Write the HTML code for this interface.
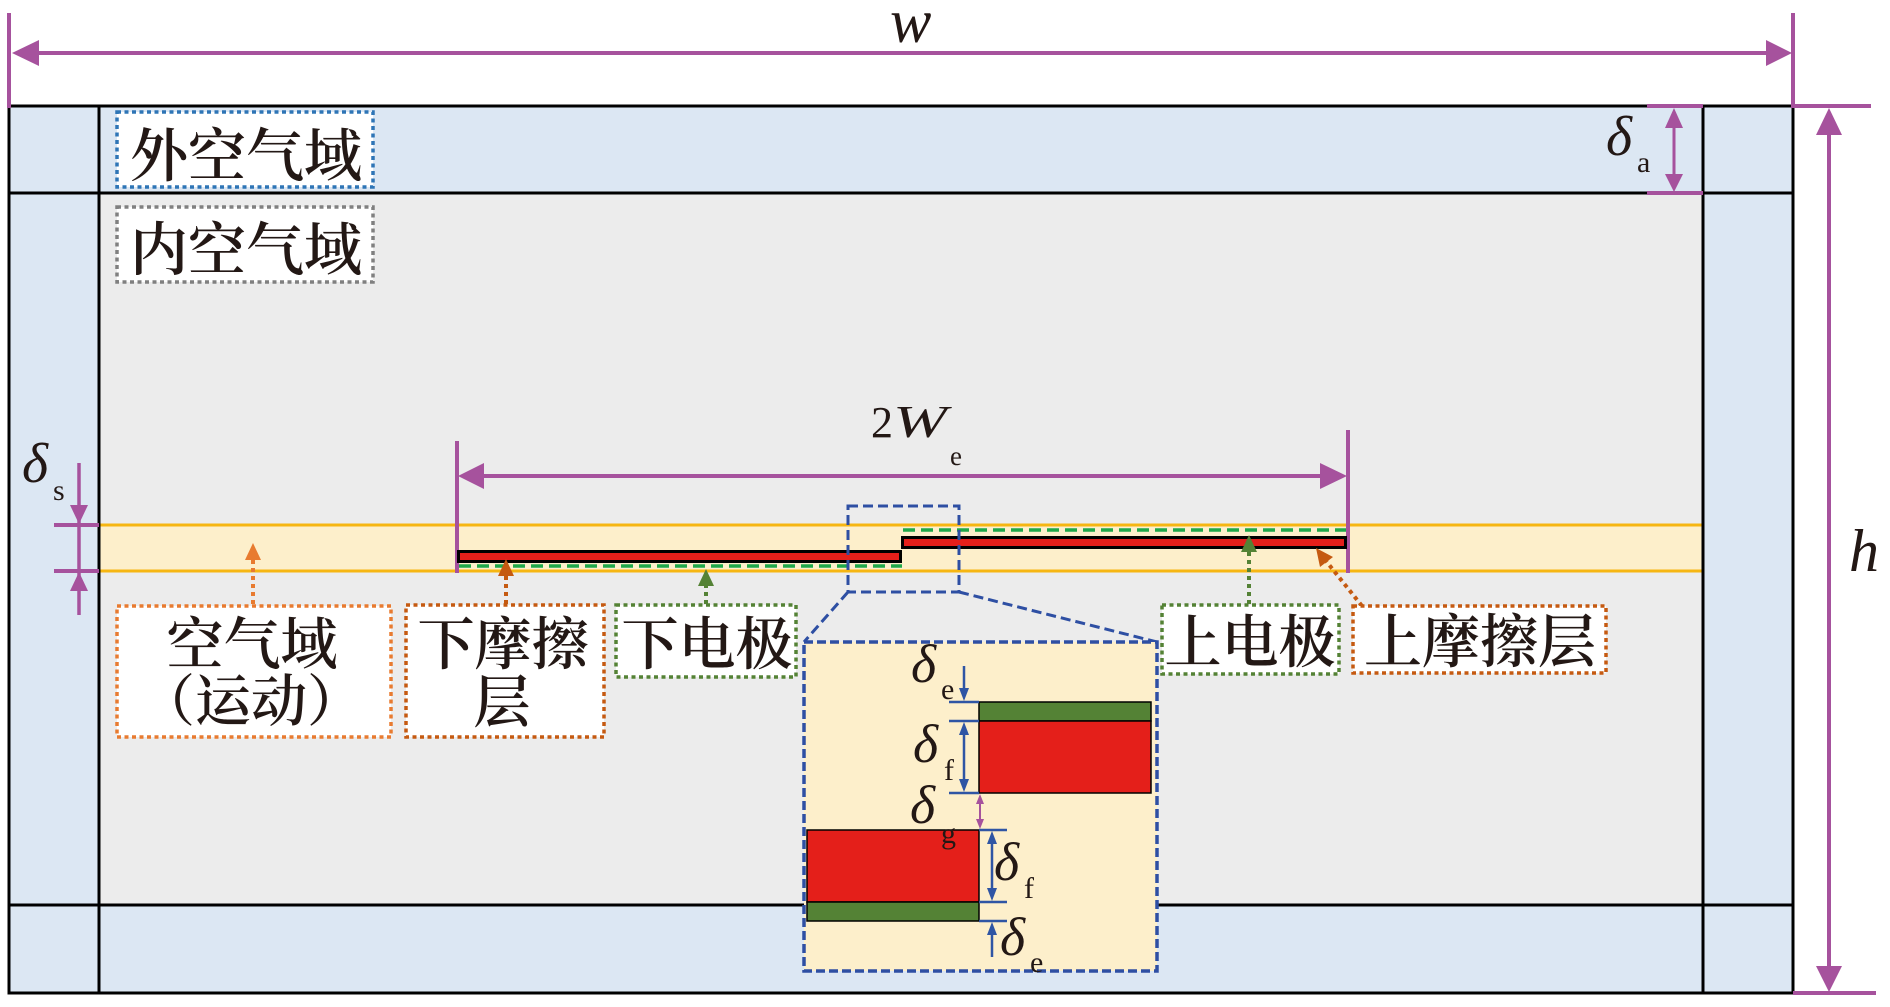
<!DOCTYPE html>
<html><head><meta charset="utf-8"><style>
html,body{margin:0;padding:0;background:#fff;}
svg{display:block;}
.cj{font-family:"Liberation Serif","Noto Serif CJK SC","Noto Sans CJK SC",serif;font-weight:600;fill:#231815;}
.it{font-family:"Liberation Serif",serif;font-style:italic;fill:#231815;}
.rm{font-family:"Liberation Serif",serif;fill:#231815;}
</style></head><body>
<svg width="1890" height="1007" viewBox="0 0 1890 1007" xmlns="http://www.w3.org/2000/svg">
<rect width="1890" height="1007" fill="#fff"/>
<!-- domains -->
<rect x="9" y="106" width="1784" height="887" fill="#dce7f3"/>
<rect x="99" y="193" width="1604" height="712" fill="#ececec"/>
<rect x="99" y="525" width="1604" height="46" fill="#fdefcb"/>
<line x1="99" y1="525" x2="1703" y2="525" stroke="#f6b612" stroke-width="3"/>
<line x1="99" y1="571" x2="1703" y2="571" stroke="#f6b612" stroke-width="3"/>
<!-- grid lines -->
<g stroke="#000" stroke-width="3" fill="none">
<rect x="9" y="106" width="1784" height="887"/>
<line x1="99" y1="106" x2="99" y2="993"/>
<line x1="1703" y1="106" x2="1703" y2="993"/>
<line x1="9" y1="193" x2="1793" y2="193"/>
<line x1="9" y1="905" x2="1793" y2="905"/>
</g>

<!-- w dimension -->
<g stroke="#a6529d" stroke-width="4" fill="none">
<line x1="9" y1="13" x2="9" y2="108"/>
<line x1="1793" y1="13" x2="1793" y2="108"/>
<line x1="20" y1="53" x2="1784" y2="53"/>
<!-- h -->
<line x1="1793" y1="106" x2="1871" y2="106"/>
<line x1="1793" y1="993" x2="1876" y2="993"/>
<line x1="1829" y1="120" x2="1829" y2="980"/>
<!-- delta a -->
<line x1="1647" y1="106" x2="1703" y2="106"/>
<line x1="1647" y1="193" x2="1703" y2="193"/>
<line x1="1674" y1="115" x2="1674" y2="185" stroke-width="3"/>
<!-- delta s -->
<line x1="54" y1="525" x2="99" y2="525"/>
<line x1="54" y1="571" x2="99" y2="571"/>
<line x1="79" y1="463" x2="79" y2="615" stroke-width="3.5"/>
<!-- 2We -->
<line x1="457" y1="441" x2="457" y2="573"/>
<line x1="1348" y1="430" x2="1348" y2="573"/>
<line x1="470" y1="476" x2="1335" y2="476"/>
</g>
<g fill="#a6529d">
<polygon points="12,53 39,40 39,66"/>
<polygon points="1792,53 1766,40 1766,66"/>
<polygon points="1829,108 1816,135 1842,135"/>
<polygon points="1829,992 1816,966 1842,966"/>
<polygon points="1674,108 1665,128 1683,128"/>
<polygon points="1674,192 1665,174 1683,174"/>
<polygon points="79,524 70,505 88,505"/>
<polygon points="79,572 70,591 88,591"/>
<polygon points="458,476 484,463 484,489"/>
<polygon points="1347,476 1320,463 1320,489"/>
</g>
<text class="it" x="890" y="42" font-size="62">w</text>
<text class="it" x="1849" y="571" font-size="60">h</text>
<text class="it" x="1606" y="155" font-size="56">δ</text>
<text class="rm" x="1637" y="172" font-size="30">a</text>
<text class="it" x="22" y="482" font-size="56">δ</text>
<text class="rm" x="53" y="500" font-size="30">s</text>
<text class="rm" x="871" y="437" font-size="44">2</text>
<text class="it" x="893" y="437" font-size="45" textLength="54" lengthAdjust="spacingAndGlyphs">W</text>
<text class="rm" x="950" y="465" font-size="27">e</text>

<!-- bars -->
<rect x="458.5" y="551.5" width="442" height="10" fill="#e41f1a" stroke="#000" stroke-width="3"/>
<rect x="902.5" y="537.5" width="443" height="10" fill="#e41f1a" stroke="#000" stroke-width="3"/>
<line x1="459" y1="566" x2="902" y2="566" stroke="#1fa84a" stroke-width="3.5" stroke-dasharray="12 6"/>
<line x1="903" y1="530" x2="1346" y2="530" stroke="#1fa84a" stroke-width="3.5" stroke-dasharray="12 6"/>

<!-- zoom box -->
<g stroke="#2e4fa3" stroke-width="3" fill="none" stroke-dasharray="10 5">
<rect x="848" y="506" width="111" height="86"/>
<line x1="848" y1="592" x2="804" y2="642"/>
<line x1="959" y1="592" x2="1157" y2="642"/>
</g>
<rect x="804" y="642" width="353" height="329" fill="#fdefcb" stroke="#2e4fa3" stroke-width="3.5" stroke-dasharray="9 4"/>
<!-- inset layers -->
<g stroke="#000" stroke-width="1.5">
<rect x="979" y="702" width="172" height="19" fill="#548235"/>
<rect x="979" y="721" width="172" height="72" fill="#e41f1a"/>
<rect x="807" y="830" width="172" height="72" fill="#e41f1a"/>
<rect x="807" y="902" width="172" height="19" fill="#548235"/>
</g>
<g stroke="#2f55a4" stroke-width="2.5" fill="none">
<line x1="949" y1="702" x2="979" y2="702"/>
<line x1="949" y1="721" x2="979" y2="721"/>
<line x1="949" y1="793" x2="979" y2="793"/>
<line x1="979" y1="830" x2="1007" y2="830"/>
<line x1="979" y1="902" x2="1007" y2="902"/>
<line x1="979" y1="921" x2="1007" y2="921"/>
<line x1="964" y1="666" x2="964" y2="692"/>
<line x1="964" y1="730" x2="964" y2="784"/>
<line x1="992" y1="840" x2="992" y2="892"/>
<line x1="992" y1="932" x2="992" y2="957"/>
</g>
<g fill="#2f55a4">
<polygon points="964,701 959,688 969,688"/>
<polygon points="964,722 959,735 969,735"/>
<polygon points="964,792 959,779 969,779"/>
<polygon points="992,831 987,844 997,844"/>
<polygon points="992,901 987,888 997,888"/>
<polygon points="992,922 987,935 997,935"/>
</g>
<line x1="980" y1="800" x2="980" y2="823" stroke="#a6529d" stroke-width="2"/>
<polygon points="980,794 976,804 984,804" fill="#a6529d"/>
<polygon points="980,829 976,819 984,819" fill="#a6529d"/>
<text class="it" x="911" y="682" font-size="54">δ</text>
<text class="rm" x="941" y="699" font-size="30">e</text>
<text class="it" x="913" y="762" font-size="54">δ</text>
<text class="rm" x="944" y="780" font-size="30">f</text>
<text class="it" x="910" y="823" font-size="54">δ</text>
<text class="rm" x="941" y="843" font-size="30">g</text>
<text class="it" x="994" y="880" font-size="54">δ</text>
<text class="rm" x="1024" y="898" font-size="30">f</text>
<text class="it" x="1000" y="955" font-size="54">δ</text>
<text class="rm" x="1030" y="972" font-size="30">e</text>

<!-- pointer arrows -->
<g stroke-width="4" stroke-dasharray="4 4" fill="none">
<line x1="253" y1="604" x2="253" y2="558" stroke="#e87b30"/>
<line x1="506" y1="604" x2="506" y2="574" stroke="#c55a11"/>
<line x1="706" y1="604" x2="706" y2="585" stroke="#548235"/>
<line x1="1249" y1="604" x2="1249" y2="550" stroke="#548235"/>
<line x1="1362" y1="606" x2="1326" y2="561" stroke="#c55a11"/>
</g>
<polygon points="253,543 245,560 261,560" fill="#e87b30"/>
<polygon points="506,559 498,576 514,576" fill="#c55a11"/>
<polygon points="706,569 698,586 714,586" fill="#548235"/>
<polygon points="1249,535 1241,552 1257,552" fill="#548235"/>
<polygon points="1316,548 1333,557 1320,567" fill="#c55a11"/>

<!-- label boxes -->
<g fill="#fff" stroke-width="3.5" stroke-dasharray="4 3.5">
<rect x="117" y="112" width="256" height="75" stroke="#2e75b6"/>
<rect x="117" y="207" width="256" height="75" stroke="#808080"/>
<rect x="117" y="606" width="274" height="131" stroke="#e87b30"/>
<rect x="406" y="605" width="198" height="132" stroke="#c55a11"/>
<rect x="616" y="605" width="180" height="72" stroke="#548235"/>
<rect x="1162" y="605" width="177" height="69" stroke="#548235"/>
<rect x="1353" y="606" width="253" height="67" stroke="#c55a11"/>
</g>
<g class="cj" text-anchor="middle">
<text x="246" y="176" font-size="58">外空气域</text>
<text x="246" y="270" font-size="58">内空气域</text>
<text x="252" y="664" font-size="57">空气域</text>
<text x="251" y="721" font-size="56">（运动）</text>
<text x="503" y="664" font-size="57">下摩擦</text>
<text x="502" y="722" font-size="57">层</text>
<text x="707" y="664" font-size="57">下电极</text>
<text x="1250" y="662" font-size="57">上电极</text>
<text x="1480" y="662" font-size="58">上摩擦层</text>
</g>
</svg>
</body></html>
